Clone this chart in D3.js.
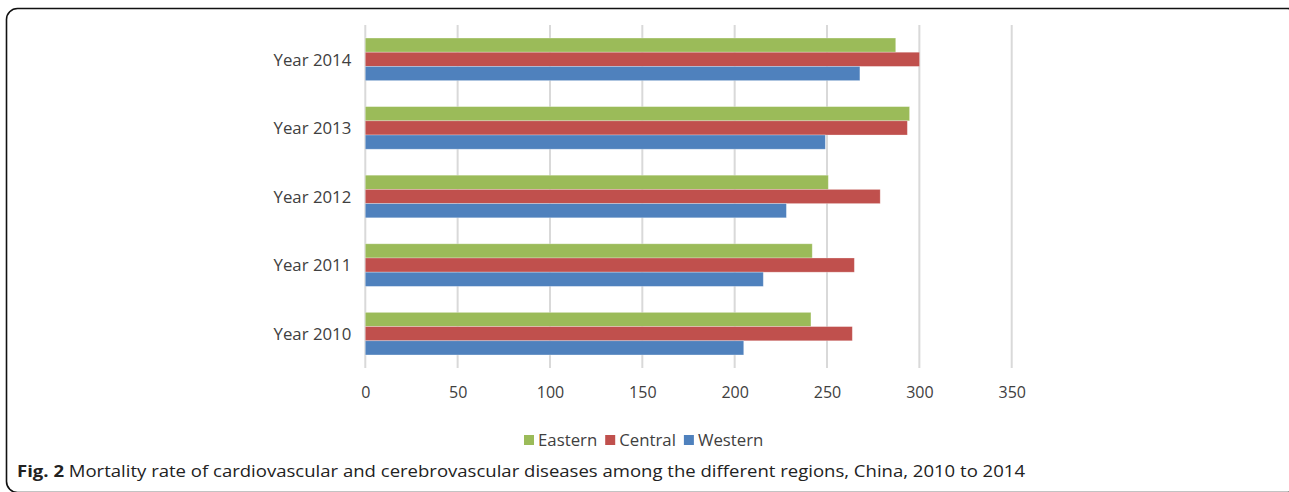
<!DOCTYPE html>
<html>
<head>
<meta charset="utf-8">
<script src="https://cdn.jsdelivr.net/npm/d3@7/dist/d3.min.js"></script>
<style>
    html, body { margin: 0; padding: 0; background: #fff; }
    svg { display: block; }
</style>
</head>
<body>
<svg id="chart" width="1289" height="492"></svg>
<script>
/*global d3*/
(function () {
    "use strict";
    var years    = ["Year 2010", "Year 2011", "Year 2012", "Year 2013", "Year 2014"],
        regions  = ["Eastern", "Central", "Western"],
        eastern  = [241.3, 242.0, 250.7, 294.7, 287.2],
        central  = [263.7, 264.8, 278.8, 293.5, 300.1],
        western  = [204.9, 215.5, 228.0, 249.1, 267.8],
        xTicks   = [0, 50, 100, 150, 200, 250, 300, 350],
        colors   = ["#9bbb59", "#c0504d", "#4f81bd"],
        caption  = "Mortality rate of cardiovascular and cerebrovascular diseases among the different regions, China, 2010 to 2014";

    var series = [eastern, central, western];
    var svg = d3.select("#chart");
    var font = "'Open Sans', 'Noto Sans', sans-serif";

    // frame around the figure
    svg.append("rect")
        .attr("x", 6.5).attr("y", 8.5)
        .attr("width", 1292).attr("height", 484)
        .attr("rx", 11).attr("ry", 11)
        .attr("fill", "none")
        .attr("stroke", "#111")
        .attr("stroke-width", 1.6);

    var x = d3.scaleLinear().domain([0, 350]).range([365.3, 1011.7]);
    // top of the chart is the latest year
    var y = d3.scaleBand().domain(years.slice().reverse()).range([25, 368])
        .paddingInner(0.379).paddingOuter(0.19);
    var y1 = d3.scaleBand().domain(regions).range([0, y.bandwidth()]);

    // gridlines
    svg.append("g").selectAll("line").data(xTicks).join("line")
        .attr("x1", function (d) { return x(d); })
        .attr("x2", function (d) { return x(d); })
        .attr("y1", 25).attr("y2", 368)
        .attr("stroke", "#d9d9d9")
        .attr("stroke-width", 2);

    var rows = years.map(function (yr, i) {
        return regions.map(function (r, j) {
            return {year: yr, region: r, value: series[j][i], color: colors[j]};
        });
    });

    svg.append("g").selectAll("g").data(rows).join("g")
        .attr("transform", function (d) { return "translate(0," + y(d[0].year) + ")"; })
        .selectAll("rect").data(function (d) { return d; }).join("rect")
        .attr("x", x(0))
        .attr("y", function (d) { return y1(d.region); })
        .attr("width", function (d) { return x(d.value) - x(0); })
        .attr("height", y1.bandwidth())
        .attr("fill", function (d) { return d.color; })
        .attr("stroke", "rgba(255,255,255,0.35)")
        .attr("stroke-width", 0.8);

    // axes text
    var xAxis = d3.axisBottom(x).tickValues(xTicks).tickSize(0).tickPadding(0);
    var gx = svg.append("g").attr("transform", "translate(0,387)").call(xAxis);
    gx.select(".domain").remove();
    gx.selectAll("text")
        .attr("font-family", font).attr("font-size", 16)
        .attr("fill", "#404040").attr("dy", "0.71em")
        .attr("y", 0);

    var yAxis = d3.axisLeft(y).tickSize(0).tickPadding(14);
    var gy = svg.append("g").attr("transform", "translate(365.3,0)").call(yAxis);
    gy.select(".domain").remove();
    gy.selectAll("text")
        .attr("font-family", font).attr("font-size", 16.8)
        .attr("fill", "#404040")
        .attr("dy", "0.38em");

    // legend, items laid out one after another
    var legend = svg.append("g");
    var lx = 524;
    regions.forEach(function (r, i) {
        legend.append("rect")
            .attr("x", lx).attr("y", 435)
            .attr("width", 10).attr("height", 10)
            .attr("fill", colors[i]);
        var t = legend.append("text")
            .attr("x", lx + 14).attr("y", 440).attr("dy", "0.36em")
            .attr("font-family", font).attr("font-size", 16.8)
            .attr("fill", "#404040")
            .text(r);
        lx += 14 + t.node().getComputedTextLength() + 8;
    });

    // figure caption
    var cap = svg.append("text")
        .attr("x", 17).attr("y", 477)
        .attr("font-family", font).attr("font-size", 16.5)
        .attr("fill", "#222");
    cap.append("tspan").attr("font-weight", "bold").text("Fig. 2");
    cap.append("tspan").text(" " + caption);
    cap.attr("textLength", 1008).attr("lengthAdjust", "spacingAndGlyphs");
}());
</script>
</body>
</html>
